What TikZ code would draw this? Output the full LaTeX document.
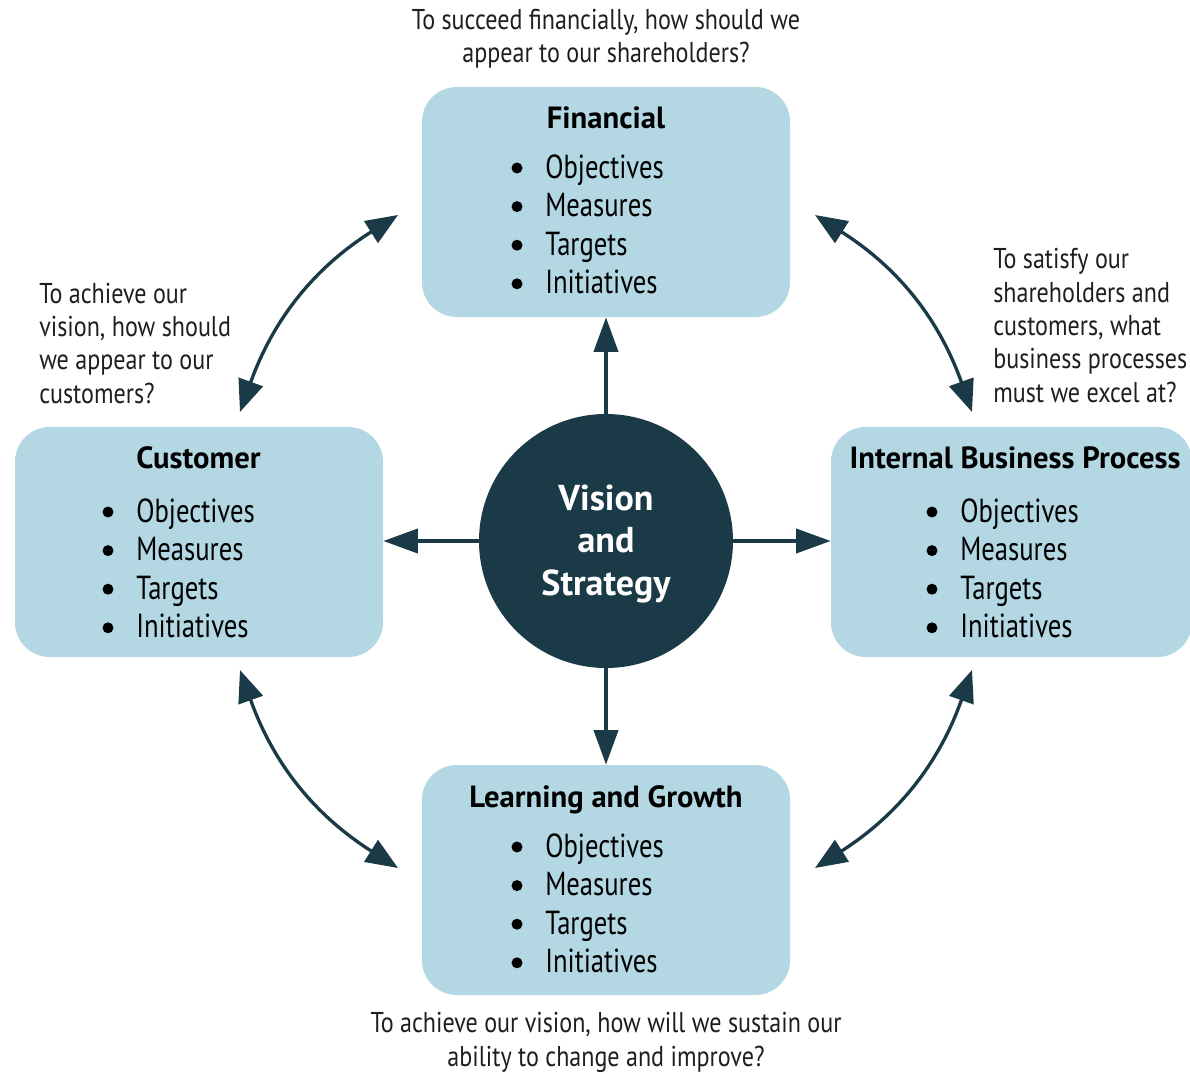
\documentclass[tikz,border=0pt]{standalone}
\usepackage{fontspec}
\setmainfont[FakeStretch=0.8,BoldFeatures={FakeStretch=1.0}]{PT Sans}
\newfontfamily\qfont[FakeStretch=0.84]{PT Sans}
\usetikzlibrary{arrows.meta}
\definecolor{boxblue}{HTML}{B3D8E4}
\definecolor{darkteal}{HTML}{1B3A47}
\definecolor{qtext}{HTML}{1E1E1E}
\newcommand\bscitems[3]{%
  \foreach \t [count=\i] in {Objectives,Measures,Targets,Initiatives}{
    \node[item] (#1\i) at ({#2+28},{#3+38.6*(\i-1)}) {\t};
    \fill ({#2},{#3+38.6*(\i-1)-10}) circle[radius=5.5];
  }}
\begin{document}
\begin{tikzpicture}[x=0.75pt,y=-0.75pt,
  panel/.style={fill=boxblue, rounded corners=26pt, minimum width=276pt, minimum height=172.5pt, inner sep=0pt},
  ptitle/.style={anchor=base, inner sep=0pt, font=\fontsize{23}{27}\selectfont\bfseries},
  item/.style={anchor=base west, inner sep=0pt, font=\fontsize{25}{29}\selectfont},
  quest/.style={inner sep=0pt, text=qtext, font=\qfont\fontsize{21.5}{25}\selectfont},
  link/.style={draw=darkteal, line width=3pt, -{Triangle[length=26pt,width=18pt]}},
  dlink/.style={draw=darkteal, line width=2.5pt, {Triangle[length=24pt,width=19pt]}-{Triangle[length=24pt,width=19pt]}}
]
\useasboundingbox (0,0) rectangle (1190,1074);
% panels
\node[panel] (fin) at (606,202) {};
\node[panel] (cus) at (199,542) {};
\node[panel, minimum width=270.75pt] (ibp) at (1011.5,542) {};
\node[panel] (lrn) at (606,880) {};
% centre
\node[circle, fill=darkteal, minimum size=190.5pt, inner sep=0pt] (vis) at (606,541) {};
\node[text=white, align=center, inner sep=0pt,
  font=\fontsize{27}{32}\selectfont\bfseries] (vist) at (606,544) {Vision\\and\\Strategy};
% titles
\node[ptitle] (fint) at (606,129) {Financial};
\node[ptitle] (cust) at (198.5,468) {Customer};
\node[ptitle] (ibpt) at (1015,468) {Internal Business Process};
\node[ptitle] (lrnt) at (606,807) {Learning and Growth};
% items
\bscitems{fi}{517}{178}
\bscitems{ci}{108}{522}
\bscitems{ii}{932}{522}
\bscitems{li}{517}{857}
% questions (base = last line)
\node[quest, align=center, anchor=base] (qfin) at (606,63) {To succeed financially, how should we\\appear to our shareholders?};
\node[quest, align=left, anchor=base west] (qcus) at (39,403) {To achieve our\\vision, how should\\we appear to our\\customers?};
\node[quest, align=left, anchor=base west] (qibp) at (993,402) {To satisfy our\\shareholders and\\customers, what\\business processes\\must we excel at?};
\node[quest, align=center, anchor=base] (qlrn) at (606,1066) {To achieve our vision, how will we sustain our\\ability to change and improve?};
% straight arrows
\draw[link] (vis.north) -- (fin.south);
\draw[link] (vis.south) -- (lrn.north);
\draw[link] (vis.west) -- (vis.west -| cus.east);
\draw[link] (vis.east) -- (vis.east -| ibp.west);
% curved arrows
\coordinate (a1) at (240,412);
\coordinate (a2) at (398,215);
\coordinate (b1) at (815,215);
\coordinate (b2) at (972,412);
\coordinate (c1) at (240,670);
\coordinate (c2) at (398,868);
\coordinate (d1) at (972,670);
\coordinate (d2) at (815,868);
\draw[dlink] (a1) to[bend left=19] (a2);
\draw[dlink] (b1) to[bend left=19] (b2);
\draw[dlink] (c1) to[bend right=19] (c2);
\draw[dlink] (d1) to[bend left=19] (d2);
\end{tikzpicture}
\end{document}
